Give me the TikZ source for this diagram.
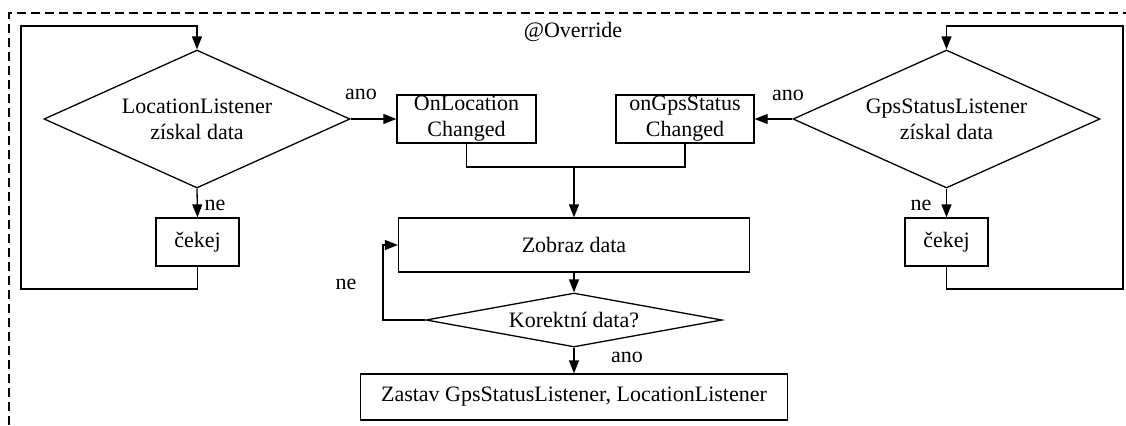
\documentclass[tikz,border=0pt]{standalone}
\usepackage{fontspec}
\setmainfont{Liberation Serif}
\usetikzlibrary{shapes.geometric,arrows.meta}
\begin{document}
\begin{tikzpicture}[x=0.5pt,y=-0.5pt,line width=0.65pt,>={Triangle[length=6.5pt,width=5pt]},
	font=\fontsize{11}{13}\selectfont,
	procbox/.style={draw,rectangle,inner sep=0pt,align=center},
	decbox/.style={draw,diamond,inner sep=0pt,align=center},
	lbl/.style={inner sep=0pt}]
	\def\mid{574}
	\useasboundingbox (0,0) rectangle (1126,425);
	\draw[dash pattern=on 4.5pt off 2.5pt] (9,425) -- (9,13) -- (1126,13);
	\node (override) at (573,32) {@Override};
	\node[decbox,aspect=2.2,minimum width=153pt,minimum height=69pt] (locdia) at (197,119) {LocationListener\\získal data};
	\node[decbox,aspect=2.2,minimum width=153.5pt,minimum height=69pt] (gpsdia) at (946.5,119) {GpsStatusListener\\získal data};
	\node[procbox,minimum width=41.5pt,minimum height=24pt] (locwait) at (197.5,242) {čekej};
	\node[procbox,minimum width=41.5pt,minimum height=24pt] (gpswait) at (946.5,242) {čekej};
	\node[procbox,minimum width=69.5pt,minimum height=24pt] (onloc) at (466.5,119) {OnLocation\\Changed};
	\node[procbox,minimum width=69pt,minimum height=24pt] (ongps) at (685,119) {onGpsStatus\\Changed};
	\node[procbox,minimum width=175.5pt,minimum height=27pt] (show) at (\mid,245) {Zobraz data};
	\node[decbox,aspect=5.5,minimum width=148pt,minimum height=27pt] (check) at (\mid,320) {Korektní data?};
	\node[procbox,minimum width=213.5pt,minimum height=23pt] (stop) at (\mid,397) {Zastav GpsStatusListener, LocationListener};
	\node[lbl] (locano) at (361,94) {ano};
	\node[lbl] (gpsano) at (788,95) {ano};
	\node[lbl] (locne) at (215,205) {ne};
	\node[lbl] (gpsne) at (921,205) {ne};
	\node[lbl] (checkne) at (346,284) {ne};
	\node[lbl] (checkano) at (627,357) {ano};
	\coordinate (locbot) at (21,289);
	\coordinate (loctop) at (21,26);
	\coordinate (gpsbot) at (1123,289);
	\coordinate (gpstop) at (1123,26);
	\coordinate (merge) at (\mid,167);
	\coordinate (checkloop) at (383,320);
	\draw[->] (locdia.east) -- (onloc.west);
	\draw[->] (gpsdia.west) -- (ongps.east);
	\draw[->] (locdia.south) -- (locwait.north);
	\draw[->] (gpsdia.south) -- (gpswait.north);
	\draw[->] (locwait.south) |- (locbot) -- (loctop) -| (locdia.north);
	\draw[->] (gpswait.south) |- (gpsbot) -- (gpstop) -| (gpsdia.north);
	\draw (onloc.south) |- (merge);
	\draw (ongps.south) |- (merge);
	\draw[->] (merge) -- (show.north);
	\draw[->] (show.south) -- (check.north);
	\draw[->] (check.west) -- (checkloop) |- (show.west);
	\draw[->] (check.south) -- (stop.north);
\end{tikzpicture}
\end{document}
